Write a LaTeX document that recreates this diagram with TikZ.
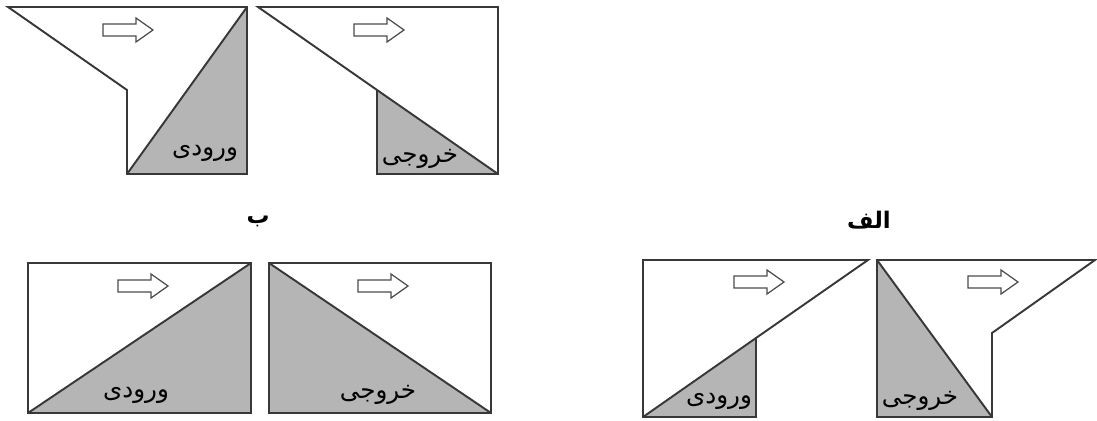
\documentclass[tikz,border=0pt]{standalone}
\usepackage{fontspec}
\newfontfamily\arabicfont[Script=Arabic]{DejaVu Sans}
\TeXXeTstate=1
\definecolor{edgegray}{gray}{0.22}
\definecolor{shadegray}{gray}{0.71}
\definecolor{arrowgray}{gray}{0.3}
\begin{document}
\begin{tikzpicture}[x=0.02cm, y=-0.02cm,
  wall/.style={draw=edgegray, line width=1.1pt, line join=miter},
  shade/.style={fill=shadegray},
  flow/.style={draw=arrowgray, line width=0.7pt, fill=white},
  tag/.style={font=\arabicfont\fontsize{14}{16}\selectfont, inner sep=0pt},
  caption/.style={font=\arabicfont\bfseries\fontsize{13}{15}\selectfont, inner sep=0pt}]
  \useasboundingbox (0,0) rectangle (1097,421);
  % ب: atas kiri (ورودی)
  \fill[shade] (127,174) -- (247,7) -- (247,174) -- cycle;
  \draw[wall] (8,7) -- (247,7) -- (247,174) -- (127,174) -- (127,90) -- cycle;
  \draw[wall] (127,174) -- (247,7);
  % ب: atas kanan (خروجی)
  \fill[shade] (377,90) -- (377,174) -- (498,174) -- cycle;
  \draw[wall] (258,7) -- (498,7) -- (498,174) -- (377,174) -- (377,90) -- cycle;
  \draw[wall] (377,90) -- (498,174);
  % ب: bawah kiri
  \fill[shade] (28,413) -- (251,263) -- (251,413) -- cycle;
  \draw[wall] (28,263) rectangle (251,413);
  \draw[wall] (28,413) -- (251,263);
  \fill[shade] (269,263) -- (269,413) -- (491,413) -- cycle;
  \draw[wall] (269,263) rectangle (491,413);
  \draw[wall] (269,263) -- (491,413);
  % الف: bawah kanan
  \fill[shade] (643,417) -- (756,338) -- (756,417) -- cycle;
  \draw[wall] (643,260) -- (868,260) -- (756,338) -- (756,417) -- (643,417) -- cycle;
  \draw[wall] (643,417) -- (756,338);
  \fill[shade] (877,260) -- (877,417) -- (992,417) -- cycle;
  \draw[wall] (877,260) -- (1095,260) -- (992,333) -- (992,417) -- (877,417) -- cycle;
  \draw[wall] (877,260) -- (992,417);
  % panah aliran
  \foreach \x/\y in {103/30, 354/30, 118/286, 358/286, 734/282, 968/282}
    \draw[flow, shift={(\x,\y)}] (0,-6) -- (33,-6) -- (33,-12) -- (50,0)
      -- (33,12) -- (33,6) -- (0,6) -- cycle;
  % label
  \node[tag] (in1) at (205,153) {\beginR ورودی\endR};
  \node[tag] (out1) at (420,159) {\beginR خروجی\endR};
  \node[tag] (in2) at (136,395) {\beginR ورودی\endR};
  \node[tag] (out2) at (378,395) {\beginR خروجی\endR};
  \node[tag] (in3) at (719,401) {\beginR ورودی\endR};
  \node[tag] (out3) at (920,401) {\beginR خروجی\endR};
  \node[caption] (capB) at (258,221) {\beginR ب\endR};
  \node[caption] (capA) at (869,220) {\beginR الف\endR};
\end{tikzpicture}
\end{document}
